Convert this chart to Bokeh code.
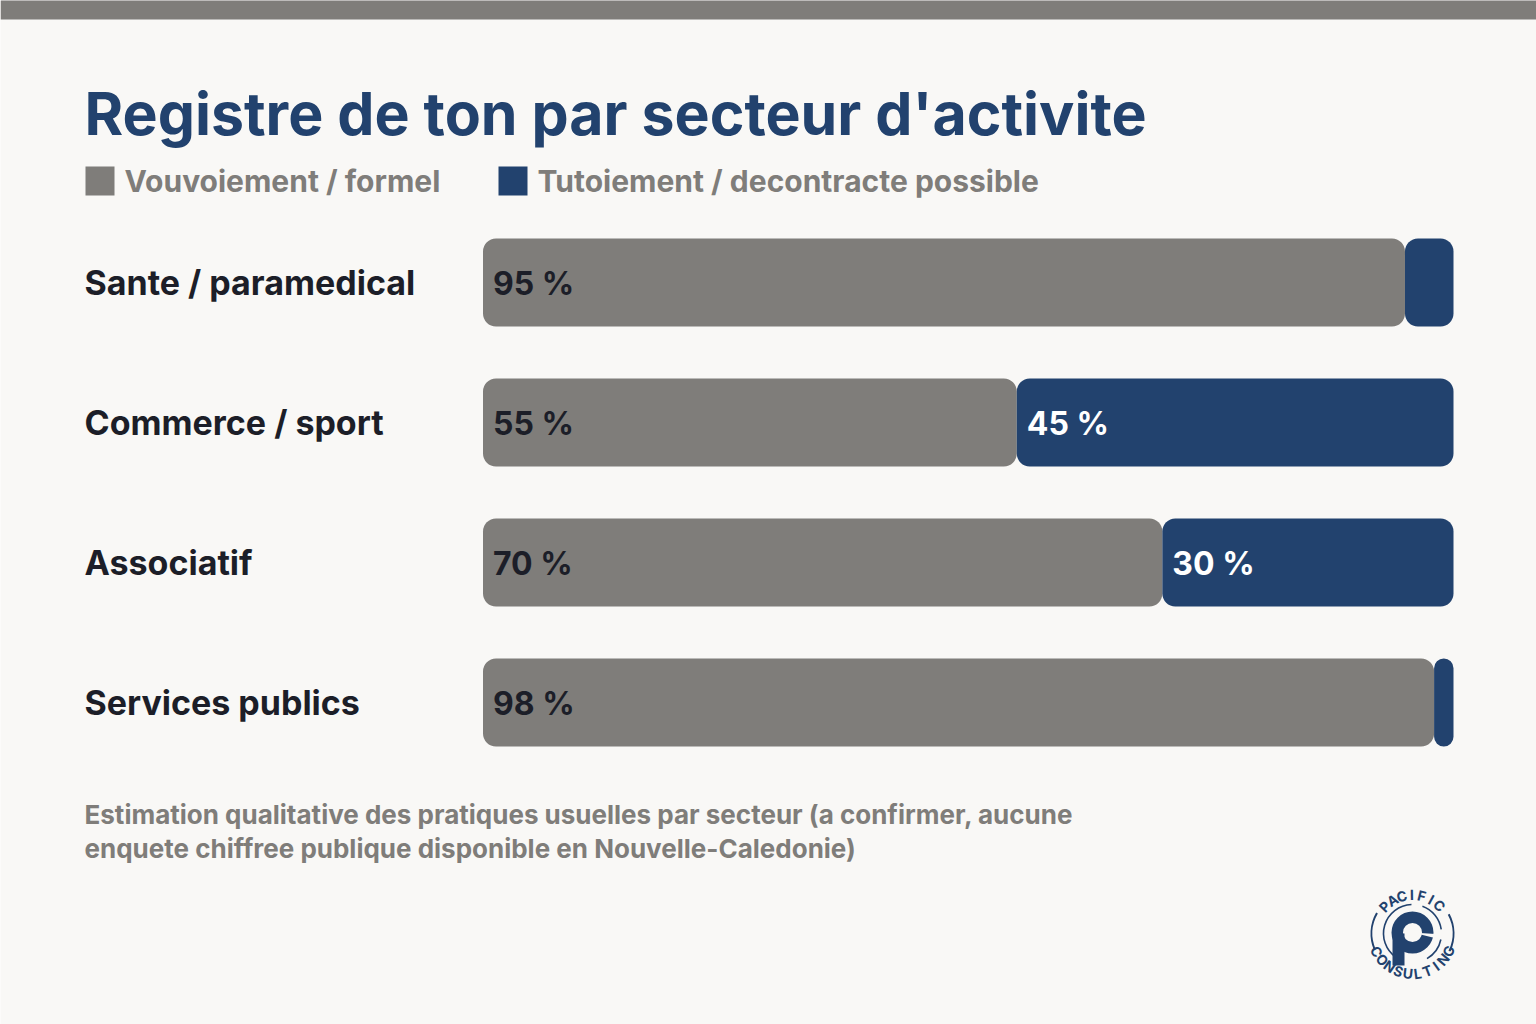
import math
from bokeh.plotting import figure
from bokeh.models import Range1d, Label, ColumnDataSource
from bokeh.core.properties import value
from bokeh.embed import file_html
from bokeh.resources import INLINE

# --- data -------------------------------------------------------------
sectors = ["Sante / paramedical", "Commerce / sport", "Associatif", "Services publics"]
formal = [95, 55, 70, 98]          # Vouvoiement / formel (%)
casual = [5, 45, 30, 2]            # Tutoiement / decontracte possible (%)
series_names = ["Vouvoiement / formel", "Tutoiement / decontracte possible"]

title = "Registre de ton par secteur d'activite"
note_lines = [
    "Estimation qualitative des pratiques usuelles par secteur (a confirmer, aucune",
    "enquete chiffree publique disponible en Nouvelle-Caledonie)",
]

# --- styling ------------------------------------------------------------
W, H = 1536, 1024
BG = "#f9f8f6"
GREY = "#7f7d7a"
BLUE = "#22426e"
INK = "#1c1e28"
FONT = "Inter"

# layout scale: 100 % spans ~970 px starting at x=482.5 px, rows 140 px apart
PX_PER_PCT = 9.705
X0_PX = 482.5
ROW_PX = 140
FIRST_ROW_PX = 282


def xd(px):
    return (px - X0_PX) / PX_PER_PCT


def yd(py):
    return (H - py) / ROW_PX


p = figure(width=W, height=H, output_backend="svg", toolbar_location=None,
           x_range=Range1d(xd(0), xd(W)), y_range=Range1d(0, H / ROW_PX),
           min_border=0, background_fill_color=BG, border_fill_color=BG)
p.axis.visible = False
p.grid.visible = False
p.outline_line_color = None

# top band
p.quad(left=[xd(0)], right=[xd(W)], bottom=[yd(19)], top=[yd(0) + 1],
       fill_color=GREY, line_color=None)

# title
p.add_layout(Label(x=xd(84), y=yd(113), text=title, text_font=FONT,
                   text_font_size="59px", text_font_style="bold",
                   text_color=BLUE, text_baseline="middle"))

# legend
for sx, txt, col in [(85, series_names[0], GREY), (498, series_names[1], BLUE)]:
    p.rect(x=[xd(sx + 14.5)], y=[yd(180.5)], width=29, height=29,
           width_units="screen", height_units="screen",
           fill_color=col, line_color=None)
    p.add_layout(Label(x=xd(sx + 39), y=yd(180), text=txt, text_font=FONT,
                       text_font_size="30px", text_font_style="bold",
                       text_color=GREY, text_baseline="middle"))

# bars
row_y = [yd(FIRST_ROW_PX + ROW_PX * i) for i in range(len(sectors))]
ends = [f + c for f, c in zip(formal, casual)]
src = ColumnDataSource(dict(y=row_y, sector=sectors, formal=formal,
                            casual=casual, end=ends,
                            zero=[0] * len(sectors)))
bar_h = 88 / ROW_PX
p.hbar(y="y", left="zero", right="formal", height=bar_h, source=src,
       fill_color=GREY, line_color=None, border_radius=13)
p.hbar(y="y", left="formal", right="end", height=bar_h, source=src,
       fill_color=BLUE, line_color=None, border_radius=13)

# sector labels
p.text(x=xd(84), y="y", text="sector", source=src, text_font=value(FONT),
       text_font_size="34px", text_font_style="bold", text_color=INK,
       text_baseline="middle", text_align="left")

# value labels inside segments wide enough to hold them
MIN_LABEL = 10
fl = [(0, y, f"{v} %") for y, v in zip(row_y, formal) if v >= MIN_LABEL]
cl = [(f, y, f"{v} %") for y, f, v in zip(row_y, formal, casual) if v >= MIN_LABEL]
p.text(x=[a[0] for a in fl], y=[a[1] for a in fl], text=[a[2] for a in fl],
       x_offset=10, y_offset=1, text_font=value(FONT), text_font_size="32px",
       text_font_style="bold", text_color=INK, text_baseline="middle")
p.text(x=[a[0] for a in cl], y=[a[1] for a in cl], text=[a[2] for a in cl],
       x_offset=10, y_offset=1, text_font=value(FONT), text_font_size="32px",
       text_font_style="bold", text_color="white", text_baseline="middle")

# footnote
for i, line in enumerate(note_lines):
    p.add_layout(Label(x=xd(84), y=yd(814 + 34 * i), text=line, text_font=FONT,
                       text_font_size="26px", text_font_style="bold",
                       text_color=GREY, text_baseline="middle"))

# logo mark
cx, cy = 1412, 933
for a0, a1 in [(150, 203), (-25, 28)]:
    p.arc(x=[xd(cx)], y=[yd(cy)], radius=41, radius_units="screen",
          start_angle=math.radians(a0), end_angle=math.radians(a1),
          line_color=BLUE, line_width=2)
# thin ring hugging the bowl
for a0, a1 in [(92, 235), (8, 70), (-60, -12)]:
    p.arc(x=[xd(cx)], y=[yd(cy)], radius=29, radius_units="screen",
          start_angle=math.radians(a0), end_angle=math.radians(a1),
          line_color=BLUE, line_width=1.6)
# the "p": stem + bowl
p.quad(left=[xd(1392)], right=[xd(1404)], top=[yd(933)], bottom=[yd(965)],
       fill_color=BLUE, line_color=None)
p.annulus(x=[xd(cx)], y=[yd(cy - 1)], inner_radius=9.5, outer_radius=21,
          inner_radius_units="screen", outer_radius_units="screen",
          fill_color=BLUE, line_color=None)
p.wedge(x=[xd(cx)], y=[yd(cy - 1)], radius=23, radius_units="screen",
        start_angle=math.radians(-14), end_angle=math.radians(-4),
        fill_color=BG, line_color=None)


# lettering around the ring
def ring_text(word, a0, a1, r, top):
    n = len(word)
    xs, ys, angs = [], [], []
    for k in range(n):
        a = math.radians(a0 + (a1 - a0) * k / (n - 1))
        xs.append(xd(cx + r * math.cos(a)))
        ys.append(yd(cy - r * math.sin(a)))
        angs.append(a - math.pi / 2 if top else a + math.pi / 2)
    p.text(x=xs, y=ys, text=list(word), angle=angs, text_font=value(FONT),
           text_font_size="14px", text_font_style="bold", text_color=BLUE,
           text_align="center", text_baseline="middle")


ring_text("PACIFIC", 136, 46, 39, True)
ring_text("CONSULTING", 207, 334, 40, False)

open("out.html", "w").write(file_html(p, INLINE))
